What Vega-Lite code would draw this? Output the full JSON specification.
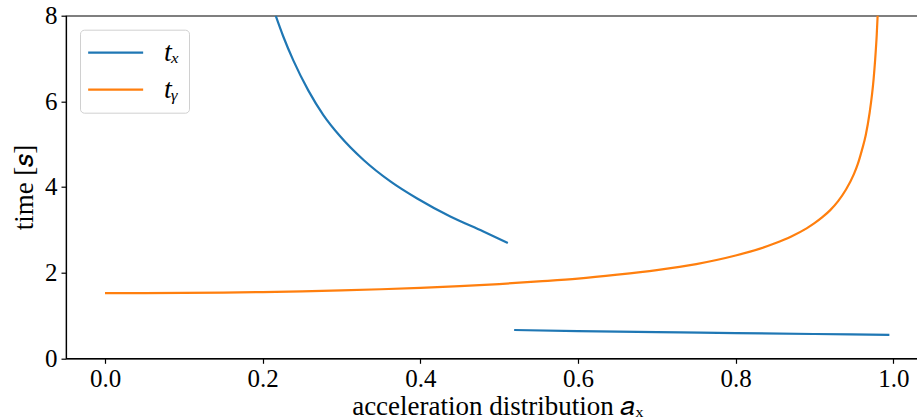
{
  "$schema": "https://vega.github.io/schema/vega-lite/v6.json",
  "autosize": {"type": "none"},
  "padding": {"left": 66, "top": 15.7, "right": 0, "bottom": 61},
  "width": 862.4,
  "height": 342.6,
  "background": "white",
  "datasets": {
    "curves": [
      {"series": "t_x", "seg": "tx1", "ax": 0.2165, "t": 8.0},
      {"series": "t_x", "seg": "tx1", "ax": 0.226, "t": 7.52},
      {"series": "t_x", "seg": "tx1", "ax": 0.239, "t": 6.95},
      {"series": "t_x", "seg": "tx1", "ax": 0.258, "t": 6.25},
      {"series": "t_x", "seg": "tx1", "ax": 0.277, "t": 5.68},
      {"series": "t_x", "seg": "tx1", "ax": 0.298, "t": 5.19},
      {"series": "t_x", "seg": "tx1", "ax": 0.328, "t": 4.63},
      {"series": "t_x", "seg": "tx1", "ax": 0.362, "t": 4.13},
      {"series": "t_x", "seg": "tx1", "ax": 0.396, "t": 3.73},
      {"series": "t_x", "seg": "tx1", "ax": 0.438, "t": 3.31},
      {"series": "t_x", "seg": "tx1", "ax": 0.48, "t": 2.96},
      {"series": "t_x", "seg": "tx1", "ax": 0.511, "t": 2.69},
      {"series": "t_x", "seg": "tx2", "ax": 0.519, "t": 0.661},
      {"series": "t_x", "seg": "tx2", "ax": 0.6, "t": 0.635},
      {"series": "t_x", "seg": "tx2", "ax": 0.7, "t": 0.612},
      {"series": "t_x", "seg": "tx2", "ax": 0.755, "t": 0.6},
      {"series": "t_x", "seg": "tx2", "ax": 0.8, "t": 0.59},
      {"series": "t_x", "seg": "tx2", "ax": 0.9, "t": 0.567},
      {"series": "t_x", "seg": "tx2", "ax": 0.995, "t": 0.545},
      {"series": "t_y", "seg": "ty", "ax": 0.0, "t": 1.52},
      {"series": "t_y", "seg": "ty", "ax": 0.05, "t": 1.521},
      {"series": "t_y", "seg": "ty", "ax": 0.1, "t": 1.526},
      {"series": "t_y", "seg": "ty", "ax": 0.15, "t": 1.535},
      {"series": "t_y", "seg": "ty", "ax": 0.2, "t": 1.547},
      {"series": "t_y", "seg": "ty", "ax": 0.25, "t": 1.564},
      {"series": "t_y", "seg": "ty", "ax": 0.3, "t": 1.585},
      {"series": "t_y", "seg": "ty", "ax": 0.35, "t": 1.612},
      {"series": "t_y", "seg": "ty", "ax": 0.4, "t": 1.645},
      {"series": "t_y", "seg": "ty", "ax": 0.45, "t": 1.686},
      {"series": "t_y", "seg": "ty", "ax": 0.5, "t": 1.734},
      {"series": "t_y", "seg": "ty", "ax": 0.55, "t": 1.794},
      {"series": "t_y", "seg": "ty", "ax": 0.6, "t": 1.86},
      {"series": "t_y", "seg": "ty", "ax": 0.65, "t": 1.952},
      {"series": "t_y", "seg": "ty", "ax": 0.7, "t": 2.06},
      {"series": "t_y", "seg": "ty", "ax": 0.75, "t": 2.2},
      {"series": "t_y", "seg": "ty", "ax": 0.8, "t": 2.4},
      {"series": "t_y", "seg": "ty", "ax": 0.83, "t": 2.555},
      {"series": "t_y", "seg": "ty", "ax": 0.85, "t": 2.685},
      {"series": "t_y", "seg": "ty", "ax": 0.87, "t": 2.84},
      {"series": "t_y", "seg": "ty", "ax": 0.89, "t": 3.035},
      {"series": "t_y", "seg": "ty", "ax": 0.9, "t": 3.155},
      {"series": "t_y", "seg": "ty", "ax": 0.91, "t": 3.295},
      {"series": "t_y", "seg": "ty", "ax": 0.92, "t": 3.46},
      {"series": "t_y", "seg": "ty", "ax": 0.93, "t": 3.67},
      {"series": "t_y", "seg": "ty", "ax": 0.94, "t": 3.94},
      {"series": "t_y", "seg": "ty", "ax": 0.95, "t": 4.3},
      {"series": "t_y", "seg": "ty", "ax": 0.955, "t": 4.54},
      {"series": "t_y", "seg": "ty", "ax": 0.96, "t": 4.85},
      {"series": "t_y", "seg": "ty", "ax": 0.965, "t": 5.21},
      {"series": "t_y", "seg": "ty", "ax": 0.97, "t": 5.74},
      {"series": "t_y", "seg": "ty", "ax": 0.973, "t": 6.16},
      {"series": "t_y", "seg": "ty", "ax": 0.975, "t": 6.52},
      {"series": "t_y", "seg": "ty", "ax": 0.977, "t": 6.98},
      {"series": "t_y", "seg": "ty", "ax": 0.979, "t": 7.56},
      {"series": "t_y", "seg": "ty", "ax": 0.981, "t": 8.35}
    ]
  },
  "data": {"name": "curves"},
  "mark": {"type": "line", "strokeWidth": 2.2, "clip": true, "interpolate": "monotone"},
  "encoding": {
    "x": {
      "field": "ax", "type": "quantitative",
      "scale": {"domain": [-0.0495, 1.0445], "nice": false, "zero": false},
      "axis": {
        "values": [0, 0.2, 0.4, 0.6, 0.8, 1.0], "format": ".1f",
        "title": "acceleration distribution 𝑎ₓ",
        "labelFont": "Liberation Serif", "labelFontSize": 25, "labelColor": "black",
        "labelPadding": 3, "titlePadding": 2,
        "titleFont": "Liberation Serif", "titleFontSize": 27, "titleFontWeight": "normal", "titleColor": "black"
      }
    },
    "y": {
      "field": "t", "type": "quantitative",
      "scale": {"domain": [0, 8], "nice": false},
      "axis": {
        "values": [0, 2, 4, 6, 8], "format": "d", "title": "time [𝑠]",
        "labelFont": "Liberation Serif", "labelFontSize": 25, "labelColor": "black",
        "labelPadding": 4, "titlePadding": 6,
        "titleFont": "Liberation Serif", "titleFontSize": 27, "titleFontWeight": "normal", "titleColor": "black"
      }
    },
    "color": {
      "field": "series", "type": "nominal",
      "scale": {"domain": ["t_x", "t_y"], "range": ["#1f77b4", "#ff7f0e"]},
      "legend": {
        "title": null,
        "orient": "top-left",
        "offset": 13.5,
        "labelExpr": "datum.value == 't_x' ? 'tₓ' : 'tᵧ'",
        "labelFont": "Liberation Serif",
        "labelFontSize": 28,
        "labelFontStyle": "italic",
        "labelColor": "black"
      }
    },
    "detail": {"field": "seg"},
    "order": {"field": "ax", "type": "quantitative"}
  },
  "config": {
    "font": "Liberation Serif",
    "view": {"stroke": "black", "strokeWidth": 1.2},
    "axis": {
      "grid": false,
      "domainColor": "black",
      "domainWidth": 1.2,
      "tickColor": "black",
      "tickWidth": 1.2,
      "tickSize": 5
    },
    "legend": {
      "padding": 9,
      "strokeColor": "#d0d0d0",
      "fillColor": "white",
      "cornerRadius": 4,
      "symbolType": "M-1.35,0H3.65",
      "symbolSize": 484,
      "symbolStrokeWidth": 2.2,
      "labelOffset": 47,
      "rowPadding": 9
    }
  }
}
